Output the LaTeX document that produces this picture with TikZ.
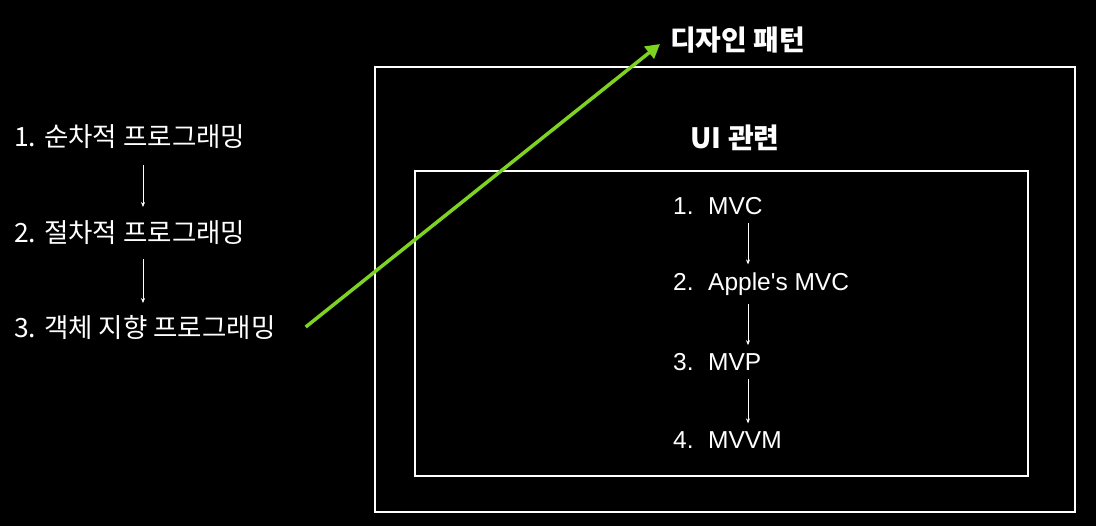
\documentclass[tikz,border=0pt]{standalone}
\usepackage{fontspec}
\setmainfont{Liberation Sans}
\newfontfamily\kr{Noto Sans CJK KR}
\usetikzlibrary{arrows.meta}

\tikzset{
  item/.style={anchor=west, text=white, inner sep=0pt, font=\kr\fontsize{26.5}{30}\selectfont},
  mitem/.style={anchor=west, text=white, inner sep=0pt, font=\fontsize{24.5}{28}\selectfont},
  title/.style={text=white, inner sep=0pt, font=\kr\bfseries\fontsize{28}{32}\selectfont},
  step arrow/.style={white, line width=0.6pt, -{Stealth[length=5pt,width=4pt]}},
  frame/.style={draw=white, line width=1.6pt},
}

\begin{document}
\begin{tikzpicture}[x=1pt, y=-1pt]
\fill[black] (0,0) rectangle (1096,526);
\useasboundingbox (0,0) rectangle (1096,526);

% boxes
\draw[frame] (375,67) rectangle (1075,512);
\draw[frame] (415,171) rectangle (1028,476);

% left list
\node[item] (p1) at (14,137) {1. 순차적 프로그래밍};
\node[item] (p2) at (14,233) {2. 절차적 프로그래밍};
\node[item] (p3) at (14,327) {3. 객체 지향 프로그래밍};
\draw[step arrow] ([yshift=-28pt]p1.west -| 143,0) -- ([yshift=26pt]p2.west -| 143,0);
\draw[step arrow] ([yshift=-26pt]p2.west -| 143,0) -- ([yshift=24pt]p3.west -| 143,0);

% titles
\node[title, anchor=west] (pattern) at (670,40) {디자인 패턴};
\node[title] (ui) at (735,138) {UI 관련};

% UI patterns
\node[mitem] (m1) at (673,206) {\makebox[35pt][l]{1.}MVC};
\node[mitem] (m2) at (673,284) {\makebox[35pt][l]{2.}Apple\textquotesingle s MVC};
\node[mitem] (m3) at (673,362) {\makebox[35pt][l]{3.}MVP};
\node[mitem] (m4) at (673,440) {\makebox[35pt][l]{4.}MVVM};
\foreach \a/\b in {m1/m2, m2/m3, m3/m4} {
  \draw[step arrow] ([yshift=-8pt]\a.south west -| 748,0) -- ([yshift=8pt]\b.north west -| 748,0);
}

% green arrow
\coordinate (tip) at (660,44);
\draw[line width=3.5pt, color={rgb,255:red,126;green,211;blue,33},
  -{Triangle[length=14pt,width=15pt]}] ([xshift=30pt]p3.east) -- (tip);
\end{tikzpicture}
\end{document}
